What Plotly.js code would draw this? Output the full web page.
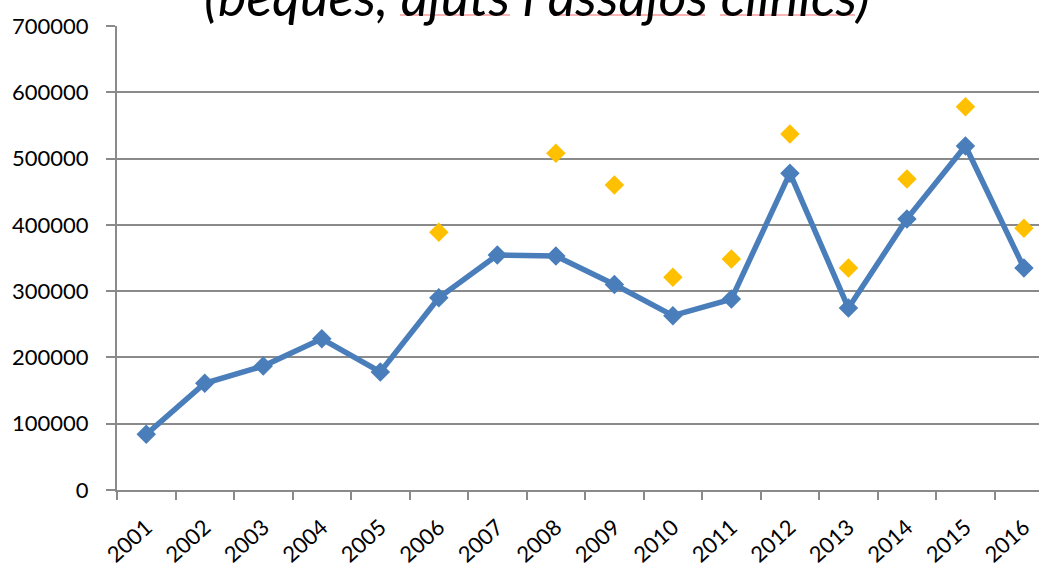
<!DOCTYPE html>
<html>
<head>
<meta charset="utf-8">
<script src="https://cdn.plot.ly/plotly-3.0.1.min.js"></script>
<style>html,body{margin:0;padding:0;background:#fff;}#chart{width:1039px;height:569px;}</style>
</head>
<body>
<div id="chart"></div>
<script>
const years = ["2001","2002","2003","2004","2005","2006","2007","2008","2009","2010","2011","2012","2013","2014","2015","2016"];
const seriesA = [84000,161000,187000,228000,178000,290000,354500,353000,310000,263000,288000,478000,274500,409000,519000,335000];
const seriesB = [null,null,null,null,null,389000,null,508000,460000,321000,348500,537000,335000,469000,578000,395000];
const yTicks = [0,100000,200000,300000,400000,500000,600000,700000];
const titleText = "(beques, ajuts i assajos clínics)";

const traces = [
  {x: years, y: seriesA, type: 'scatter', mode: 'lines+markers',
   line: {color: '#4A7EBB', width: 5.5},
   marker: {symbol: 'diamond', size: 15, color: '#4A7EBB'}, cliponaxis: false},
  {x: years, y: seriesB, type: 'scatter', mode: 'markers',
   marker: {symbol: 'diamond', size: 15, color: '#FFC000'}, cliponaxis: false}
];

const squiggles = [[400,510],[553,705],[720,855]].map(function(s){
  return {type:'line', xref:'paper', yref:'paper', x0:(s[0]-117)/922, x1:(s[1]-117)/922,
    y0:1+(26-15)/464, y1:1+(26-15)/464, line:{color:'rgba(240,90,90,0.6)', width:1.5}};
});

const layout = {
  width: 1039, height: 569,
  margin: {l: 117, r: 0, t: 26, b: 79},
  paper_bgcolor: '#fff', plot_bgcolor: '#fff',
  showlegend: false,
  font: {family: 'Lato, "Open Sans", sans-serif', color: '#000'},
  xaxis: {type: 'category', range: [-0.5, 15.257], fixedrange: true,
    showgrid: false, showline: true, linecolor: '#8a8a8a', linewidth: 2,
    ticks: 'outside', tickson: 'boundaries', ticklen: 8, tickwidth: 2, tickcolor: '#8a8a8a',
    tickangle: -42, tickfont: {size: 22, family: 'Lato, sans-serif', color: '#000'},
    ticklabelstandoff: 14, zeroline: false},
  yaxis: {range: [0, 700000], tickvals: yTicks, ticktext: yTicks.map(String), fixedrange: true,
    showgrid: true, gridcolor: '#8a8a8a', gridwidth: 2,
    showline: true, linecolor: '#8a8a8a', linewidth: 2,
    ticks: 'outside', ticklen: 9, tickwidth: 2, tickcolor: '#8a8a8a',
    tickfont: {size: 22, family: 'Lato, sans-serif', color: '#000'},
    ticklabelstandoff: 13, zeroline: false},
  annotations: [{text: '<i>' + titleText + '</i>', xref: 'paper', yref: 'paper',
    x: (537-117)/922, y: 1 - 3.5/464, xanchor: 'center', yanchor: 'bottom', showarrow: false,
    font: {size: 54, family: 'Lato, sans-serif', color: '#000'}}],
  shapes: squiggles
};

Plotly.newPlot('chart', traces, layout, {displayModeBar: false, staticPlot: true});
</script>
</body>
</html>
